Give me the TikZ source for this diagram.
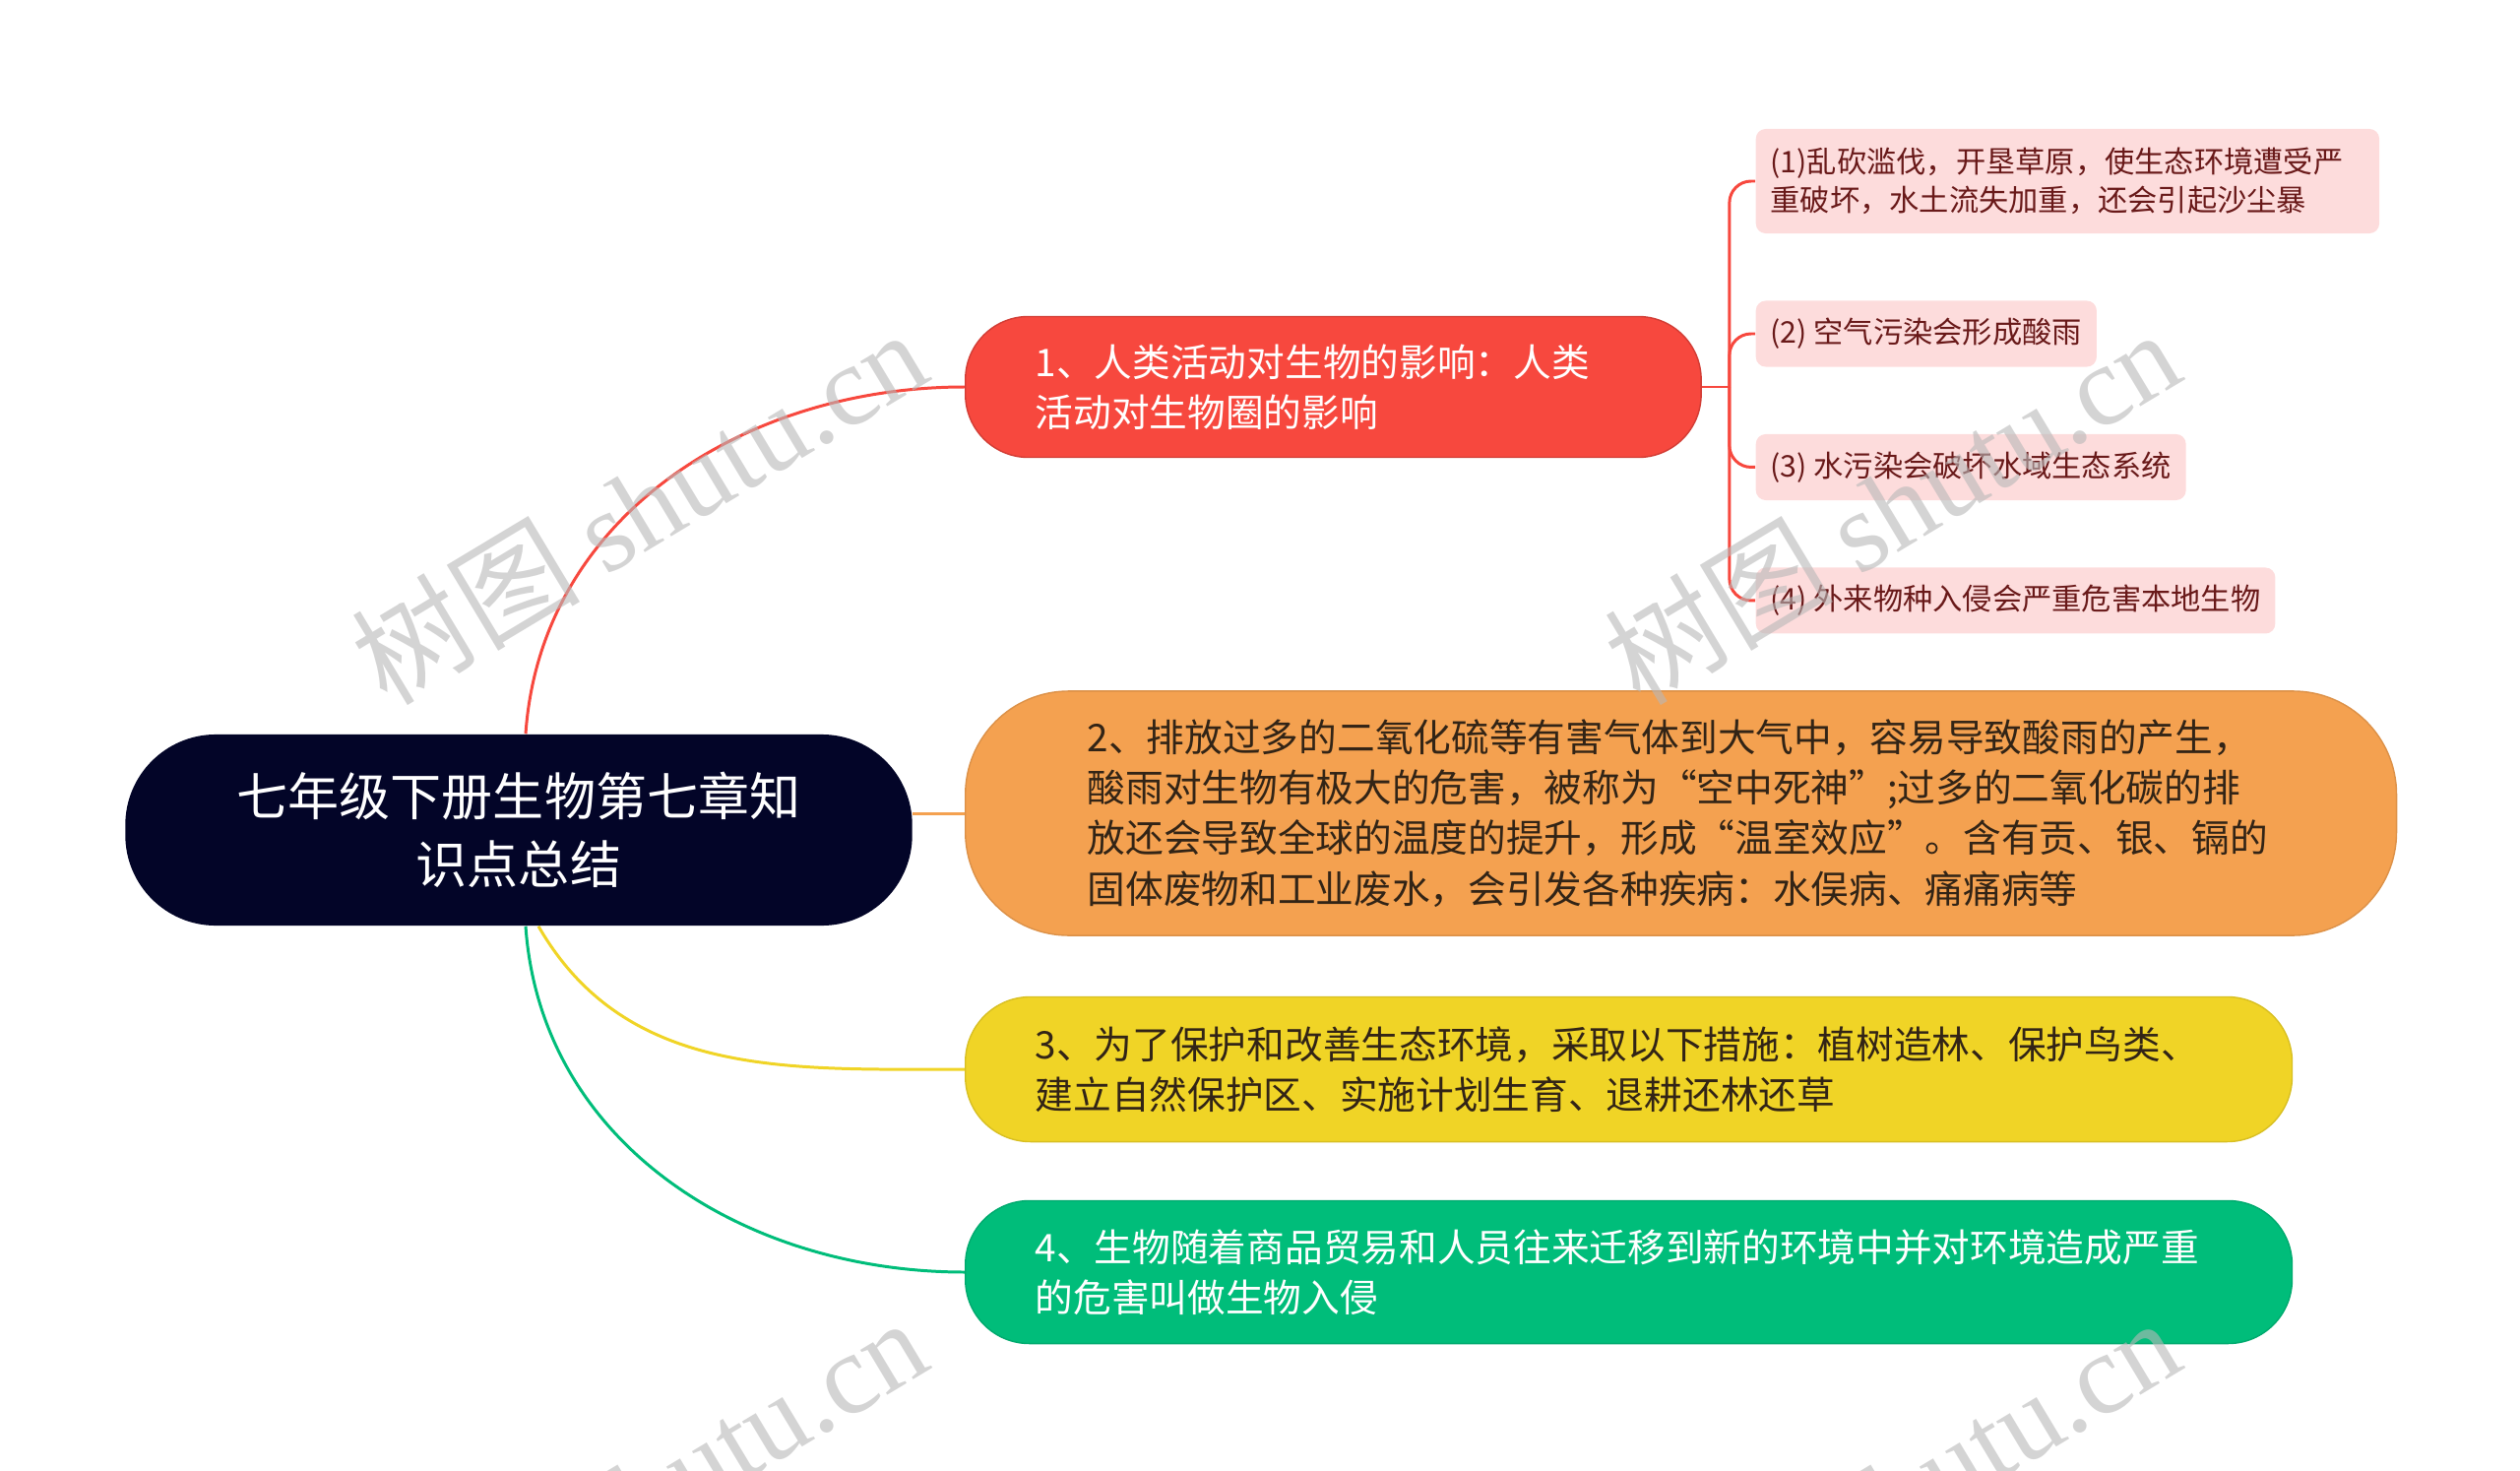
\documentclass[tikz,border=0pt]{standalone}
\usepackage{fontspec}
\setmainfont{Noto Sans CJK SC}
\newfontfamily\wmfont{Liberation Serif}
\usepackage{xcolor}
\usetikzlibrary{positioning,backgrounds}

\definecolor{rootbg}{RGB}{3,5,40}
\definecolor{redbr}{RGB}{247,72,62}
\definecolor{orangebr}{RGB}{244,161,80}
\definecolor{yellowbr}{RGB}{240,212,38}
\definecolor{greenbr}{RGB}{0,189,122}
\definecolor{pinksub}{RGB}{253,220,220}
\definecolor{subtext}{RGB}{105,25,25}
\definecolor{darktext}{RGB}{50,36,22}

\begin{document}
\begin{tikzpicture}[
    x=0.01cm, y=-0.01cm,
    root/.style={rectangle, rounded corners=0.92cm, fill=rootbg, text=white, minimum width=7.99cm, minimum height=1.94cm, align=center, font=\fontsize{14.8pt}{19.6pt}\selectfont},
    branch/.style={rectangle, anchor=west, align=left, text width=12.05cm, font=\fontsize{11pt}{14.6pt}\selectfont},
    leaf/.style={rectangle, rounded corners=0.1cm, fill=pinksub, text=subtext, minimum height=0.67cm, inner xsep=0.15cm, align=left, font=\fontsize{8.6pt}{11.1pt}\selectfont},
    link/.style={line width=0.85pt},
    watermark/.style={rotate=31, text=black!28, text opacity=0.6, font=\fontsize{33pt}{33pt}\selectfont}
]
\useasboundingbox (0,0) rectangle (2560,1494);

\node[root] (root) at (527,843) {七年级下册生物第七章知\\识点总结};

\node[branch, rounded corners=0.64cm, fill=redbr, draw=redbr!85!black, text=white, minimum width=7.47cm, minimum height=1.43cm, text width=6.05cm] (b1) at (980,393) {1、人类活动对生物的影响：人类\\活动对生物圈的影响};
\node[branch, rounded corners=1.05cm, fill=orangebr, draw=orangebr!90!black, text=darktext, minimum width=14.53cm, minimum height=2.48cm] (b2) at (980,826) {2、排放过多的二氧化硫等有害气体到大气中，容易导致酸雨的产生，\\酸雨对生物有极大的危害，被称为“空中死神”;过多的二氧化碳的排\\放还会导致全球的温度的提升，形成“温室效应”。含有贡、银、镉的\\固体废物和工业废水，会引发各种疾病：水俣病、痛痛病等};
\node[branch, rounded corners=0.66cm, fill=yellowbr, draw=yellowbr!90!black, text=darktext, minimum width=13.47cm, minimum height=1.47cm] (b3) at (980,1086) {3、为了保护和改善生态环境，采取以下措施：植树造林、保护鸟类、\\建立自然保护区、实施计划生育、退耕还林还草};
\node[branch, rounded corners=0.65cm, fill=greenbr, draw=greenbr!90!black, text=white, minimum width=13.47cm, minimum height=1.45cm] (b4) at (980,1292) {4、生物随着商品贸易和人员往来迁移到新的环境中并对环境造成严重\\的危害叫做生物入侵};

\node[leaf, anchor=west, text width=6.03cm, minimum height=1.06cm] (s1) at (1783,184) {(1)乱砍滥伐，开垦草原，使生态环境遭受严\\重破坏，水土流失加重，还会引起沙尘暴};
\node[leaf, below=0.67cm of s1.south west, anchor=north west] (s2) {(2) 空气污染会形成酸雨};
\node[leaf, below=0.67cm of s2.south west, anchor=north west] (s3) {(3) 水污染会破坏水域生态系统};
\node[leaf, below=0.67cm of s3.south west, anchor=north west] (s4) {(4) 外来物种入侵会严重危害本地生物};
\coordinate[right=0.28cm of b1.east] (hub);

\begin{scope}[on background layer]
\draw[link, draw=redbr] ([xshift=0.07cm]root.north) to[out=86,in=180] (b1.west);
\draw[link, draw=orangebr] (root.east |- b2.west) -- (b2.west);
\draw[link, draw=yellowbr] ([xshift=0.2cm]root.south) to[out=-60,in=180] (b3.west);
\draw[link, draw=greenbr] ([xshift=0.07cm]root.south) to[out=-86,in=180] (b4.west);
\draw[link, draw=redbr] (b1.east) -- (hub);
\foreach \s in {s1,s2,s3,s4}
    \draw[link, draw=redbr, rounded corners=0.22cm] (hub) |- (\s.west);
\end{scope}

% watermarks
\begin{scope}
\clip (0,0) rectangle (2560,1494);
\foreach \wx/\wy/\wn in {649/514/wma, 1922/514/wmb, 649/1518/wmc, 1922/1518/wmd}
    \node[watermark] (\wn) at (\wx,\wy) {树图 {\wmfont shutu.cn}};
\end{scope}
\end{tikzpicture}
\end{document}
